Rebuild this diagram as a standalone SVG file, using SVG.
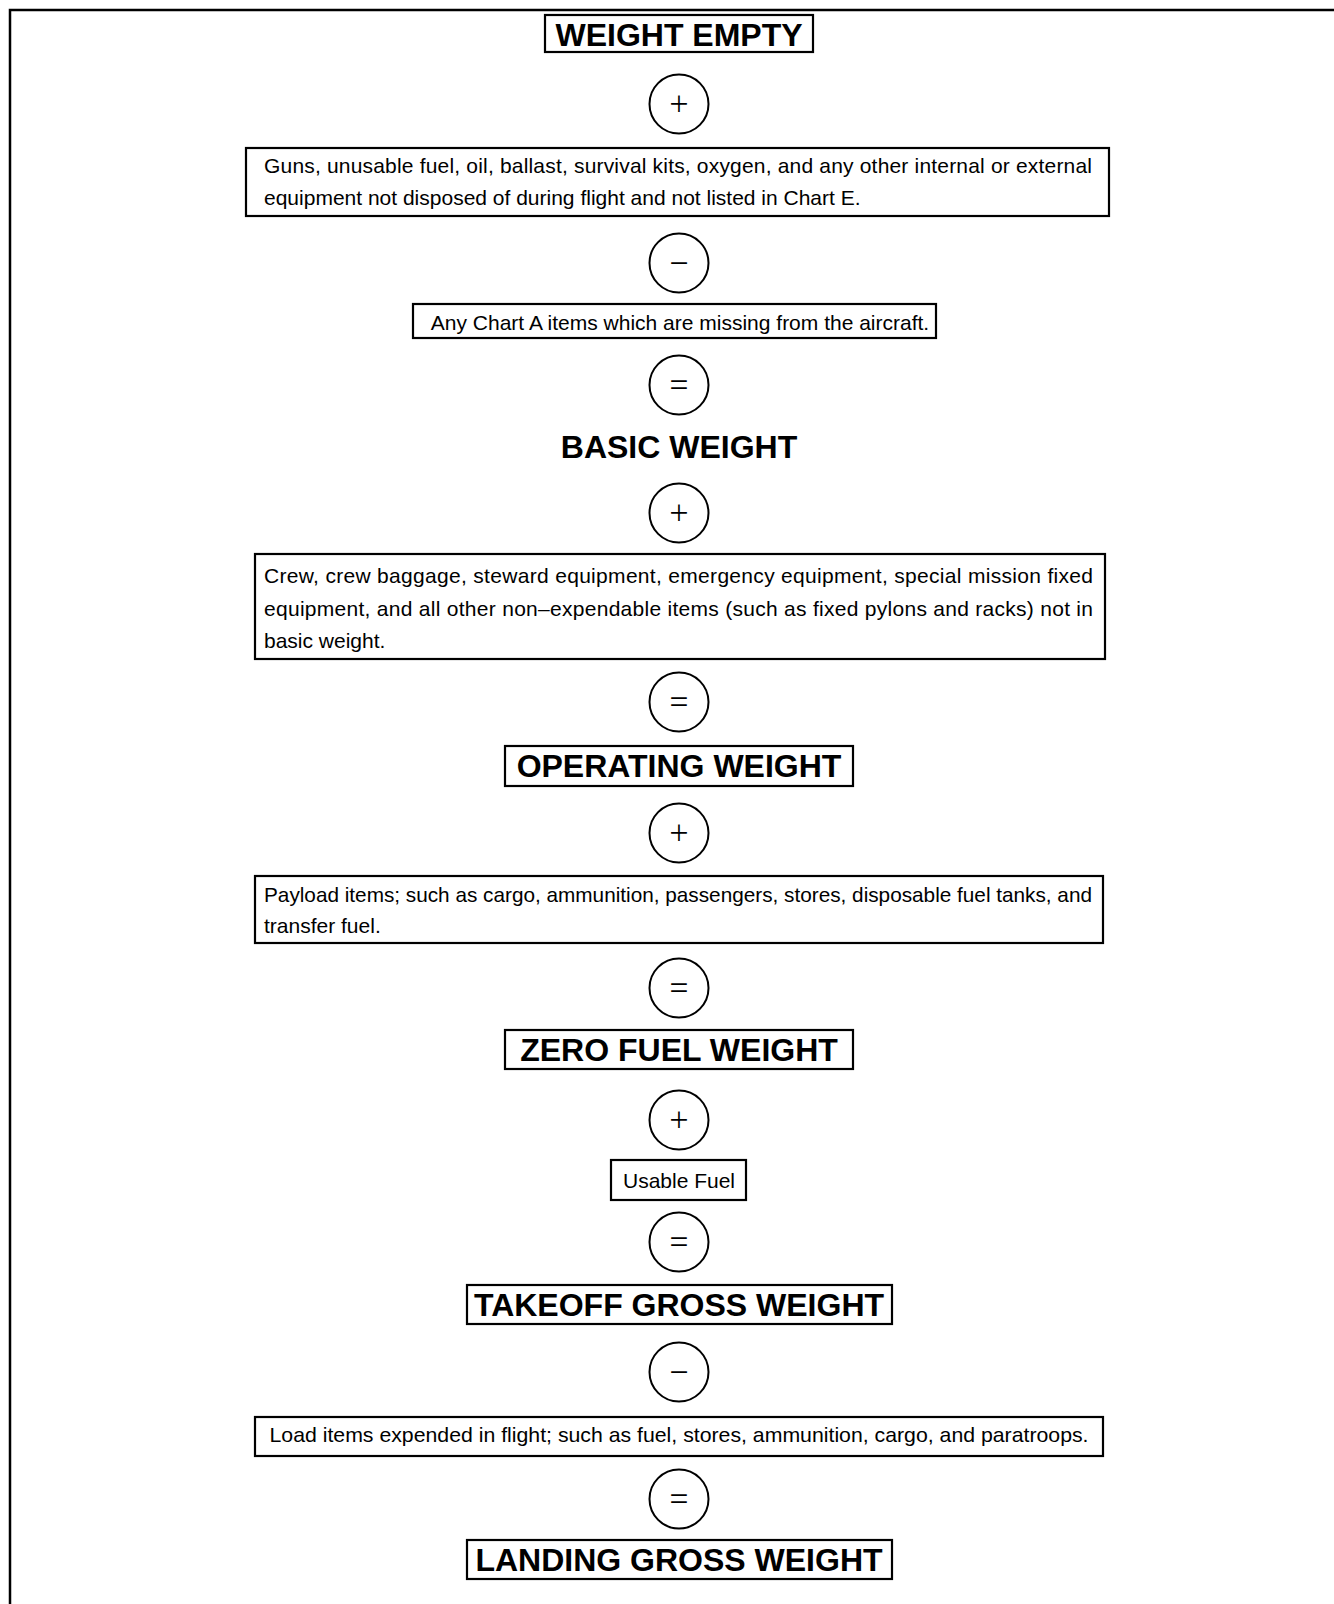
<svg xmlns="http://www.w3.org/2000/svg" width="1334" height="1604" viewBox="0 0 1334 1604">
<style>
.bx{fill:#fff;stroke:#000;stroke-width:2.2}
.op{fill:#fff;stroke:#000;stroke-width:2}
.hd{font-family:"Liberation Sans",Arial,sans-serif;font-weight:bold;font-size:32px;text-anchor:middle;fill:#000}
.bd{font-family:"Liberation Sans",Arial,sans-serif;font-size:21px;fill:#000}
.c{text-anchor:middle}
.sg{font-family:"Noto Sans","Liberation Sans",sans-serif;font-weight:300;font-size:34px;text-anchor:middle;fill:#000}
</style>
<rect width="1334" height="1604" fill="#fff"/>
<path d="M10,1604 V10 H1334" fill="none" stroke="#000" stroke-width="2.5"/>
<g id="connectors"></g>

<g id="weight-empty"><rect class="bx" x="545" y="15" width="268" height="37"/><text class="hd" x="679" y="46">WEIGHT EMPTY</text></g>
<g id="op1"><circle class="op" cx="679" cy="104" r="29.5"/><text class="sg" x="679" y="116">+</text></g>
<g id="guns"><rect class="bx" x="246" y="148" width="863" height="68"/>
<text class="bd" x="264" y="173" textLength="828" lengthAdjust="spacing">Guns, unusable fuel, oil, ballast, survival kits, oxygen, and any other internal or external</text>
<text class="bd" x="264" y="205">equipment not disposed of during flight and not listed in Chart E.</text></g>
<g id="op2"><circle class="op" cx="679" cy="263" r="29.5"/><text class="sg" x="679" y="275">−</text></g>
<g id="chart-a"><rect class="bx" x="413" y="304" width="523" height="34"/><text class="bd c" x="680" y="330">Any Chart A items which are missing from the aircraft.</text></g>
<g id="op3"><circle class="op" cx="679" cy="385" r="29.5"/><text class="sg" x="679" y="397">=</text></g>
<g id="basic-weight"><text class="hd" x="679" y="458">BASIC WEIGHT</text></g>
<g id="op4"><circle class="op" cx="679" cy="513" r="29.5"/><text class="sg" x="679" y="525">+</text></g>
<g id="crew"><rect class="bx" x="255" y="554" width="850" height="105"/>
<text class="bd" x="264" y="583" textLength="829" lengthAdjust="spacing">Crew, crew baggage, steward equipment, emergency equipment, special mission fixed</text>
<text class="bd" x="264" y="616" textLength="829" lengthAdjust="spacing">equipment, and all other non–expendable items (such as fixed pylons and racks) not in</text>
<text class="bd" x="264" y="648">basic weight.</text></g>
<g id="op5"><circle class="op" cx="679" cy="702" r="29.5"/><text class="sg" x="679" y="714">=</text></g>
<g id="operating-weight"><rect class="bx" x="505" y="746" width="348" height="40"/><text class="hd" x="679" y="777">OPERATING WEIGHT</text></g>
<g id="op6"><circle class="op" cx="679" cy="833" r="29.5"/><text class="sg" x="679" y="845">+</text></g>
<g id="payload"><rect class="bx" x="255" y="876" width="848" height="67"/>
<text class="bd" x="264" y="902" textLength="828" lengthAdjust="spacingAndGlyphs">Payload items; such as cargo, ammunition, passengers, stores, disposable fuel tanks, and</text>
<text class="bd" x="264" y="933">transfer fuel.</text></g>
<g id="op7"><circle class="op" cx="679" cy="988" r="29.5"/><text class="sg" x="679" y="1000">=</text></g>
<g id="zero-fuel-weight"><rect class="bx" x="505" y="1030" width="348" height="39"/><text class="hd" x="679" y="1061">ZERO FUEL WEIGHT</text></g>
<g id="op8"><circle class="op" cx="679" cy="1120" r="29.5"/><text class="sg" x="679" y="1132">+</text></g>
<g id="usable-fuel"><rect class="bx" x="611" y="1160" width="135" height="40"/><text class="bd c" x="679" y="1188">Usable Fuel</text></g>
<g id="op9"><circle class="op" cx="679" cy="1242" r="29.5"/><text class="sg" x="679" y="1254">=</text></g>
<g id="takeoff-gross-weight"><rect class="bx" x="467" y="1285" width="425" height="39"/><text class="hd" x="679" y="1316">TAKEOFF GROSS WEIGHT</text></g>
<g id="op10"><circle class="op" cx="679" cy="1372" r="29.5"/><text class="sg" x="679" y="1384">−</text></g>
<g id="load-items"><rect class="bx" x="255" y="1417" width="848" height="39"/><text class="bd c" x="679" y="1442" textLength="819" lengthAdjust="spacingAndGlyphs">Load items expended in flight; such as fuel, stores, ammunition, cargo, and paratroops.</text></g>
<g id="op11"><circle class="op" cx="679" cy="1499" r="29.5"/><text class="sg" x="679" y="1511">=</text></g>
<g id="landing-gross-weight"><rect class="bx" x="467" y="1540" width="425" height="39"/><text class="hd" x="679" y="1571">LANDING GROSS WEIGHT</text></g>
</svg>
